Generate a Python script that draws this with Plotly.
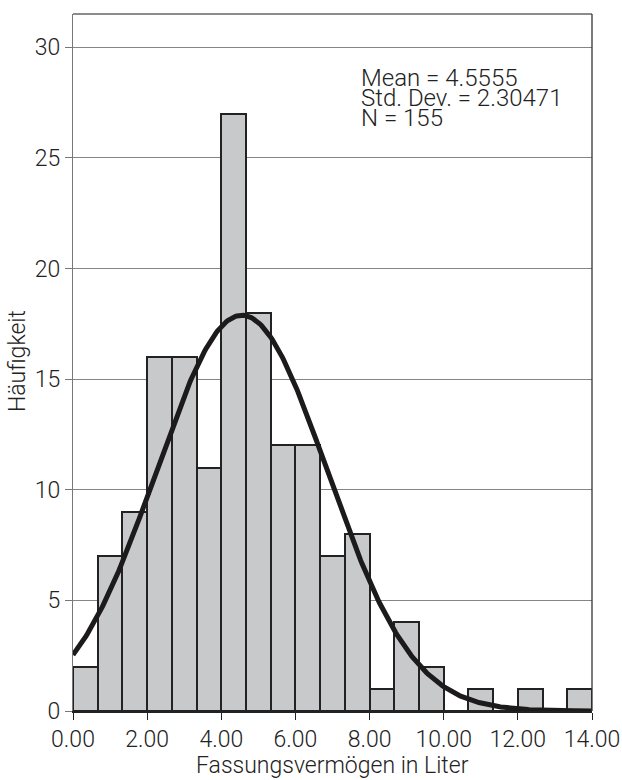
import numpy as np
import plotly.graph_objects as go

# Histogram of capacities (21 equal bins from 0 to 14 litres)
bin_start = 0.0
bin_end = 14.0
counts = [2, 7, 9, 16, 16, 11, 27, 18, 12, 12, 7, 8, 1, 4, 2, 0, 1, 0, 1, 0, 1]

# Summary statistics shown in the chart
mean = 4.5555
std_dev = 2.30471
n_obs = 155

x_tick_vals = [0, 2, 4, 6, 8, 10, 12, 14]
x_tick_text = ["0.00", "2.00", "4.00", "6.00", "8.00", "10.00", "12.00", "14.00"]
y_tick_vals = [0, 5, 10, 15, 20, 25, 30]

n_bins = len(counts)
width = (bin_end - bin_start) / n_bins
centers = [bin_start + width * (i + 0.5) for i in range(n_bins)]

# Fitted normal curve, scaled to the histogram (N * bin width)
xs = np.linspace(bin_start, bin_end, 400)
scale = n_obs * width
ys = scale / (std_dev * np.sqrt(2 * np.pi)) * np.exp(-((xs - mean) ** 2) / (2 * std_dev ** 2))

FONT = "Roboto, Liberation Sans, Arial, sans-serif"
TXT = "#222222"
W = 300

fig = go.Figure()
fig.add_trace(go.Bar(
    x=centers, y=counts, width=width,
    marker=dict(color="#c8c9cb", line=dict(color="#222222", width=2)),
    hoverinfo="x+y",
))
fig.add_trace(go.Scatter(
    x=xs, y=ys, mode="lines",
    line=dict(color="#1c1a1a", width=5),
    hoverinfo="skip",
))

# Statistics block, one line per annotation for tight line spacing
stats_lines = [f"Mean = {mean}", f"Std. Dev. = {std_dev}", f"N = {n_obs}"]
annotations = []
for i, line in enumerate(stats_lines):
    annotations.append(dict(
        text=line, xref="paper", yref="paper",
        x=(359 - 73) / 519, y=(711 - 78 - 20 * i) / 697,
        xanchor="left", yanchor="middle", showarrow=False,
        font=dict(family=FONT, size=24, color=TXT, weight=W),
    ))
annotations.append(dict(
    text="Häufigkeit", xref="paper", yref="paper",
    x=(18 - 73) / 519, y=(711 - 361) / 697, textangle=-90,
    xanchor="center", yanchor="middle", showarrow=False,
    font=dict(family=FONT, size=23, color=TXT, weight=W),
))
annotations.append(dict(
    text="Fassungsvermögen in Liter", xref="paper", yref="paper",
    x=(332 - 73) / 519, y=(711 - 765) / 697,
    xanchor="center", yanchor="middle", showarrow=False,
    font=dict(family=FONT, size=23, color=TXT, weight=W),
))

fig.update_layout(
    width=622, height=780,
    margin=dict(l=73, r=30, t=14, b=69, autoexpand=False),
    plot_bgcolor="white", paper_bgcolor="white",
    showlegend=False, bargap=0,
    annotations=annotations,
    shapes=[
        dict(type="line", xref="paper", yref="paper", x0=0, x1=1, y0=1, y1=1,
             line=dict(color="#666666", width=1.3)),
        dict(type="line", xref="paper", yref="paper", x0=1, x1=1, y0=0, y1=1,
             line=dict(color="#333333", width=1.3)),
    ],
    xaxis=dict(
        range=[bin_start, bin_end], tickvals=x_tick_vals, ticktext=x_tick_text,
        automargin=False,
        showgrid=False, zeroline=False, showline=True, linecolor="#222222", linewidth=1.5,
        ticks="outside", ticklen=7, tickcolor="#222222", tickwidth=1.3,
        tickfont=dict(family=FONT, size=23, color=TXT, weight=W),
    ),
    yaxis=dict(
        range=[0, 31.5], tickvals=y_tick_vals, automargin=False,
        showgrid=True, gridcolor="#858585", gridwidth=1.3,
        zeroline=False, showline=True, linecolor="#777777", linewidth=1.3,
        ticks="outside", ticklen=7, tickcolor="#777777", tickwidth=1.3,
        tickfont=dict(family=FONT, size=23, color=TXT, weight=W),
    ),
)

fig.write_html("out.html")
